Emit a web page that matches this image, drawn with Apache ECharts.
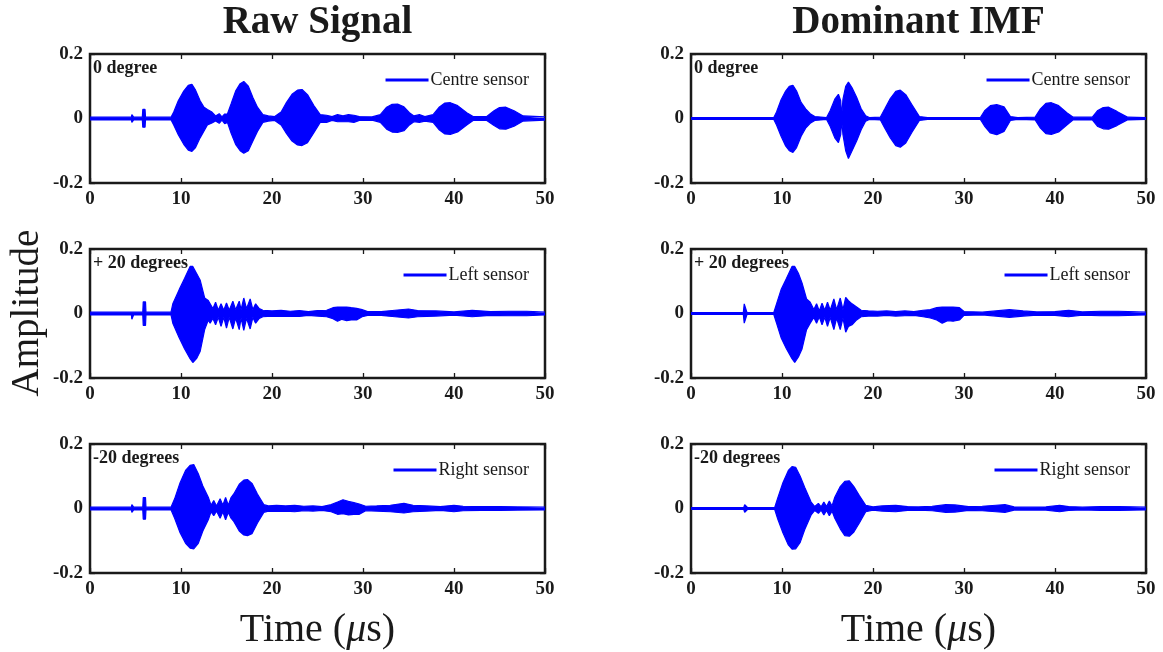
<!DOCTYPE html>
<html>
<head>
<meta charset="utf-8">
<script src="https://cdn.jsdelivr.net/npm/echarts@6/dist/echarts.min.js"></script>
<style>html,body{margin:0;padding:0;background:#fff}#c{width:1163px;height:652px}</style>
</head>
<body>
<div id="c"></div>
<script>
// Envelope of each signal: [time (µs), upper, lower]
const rawCentre = [[0,0.004,-0.004],[4.55,0.004,-0.004],[4.6,0.012,-0.012],[4.75,0.012,-0.012],[4.8,0.004,-0.004],[5.75,0.004,-0.004],[5.8,0.028,-0.027],[6.05,0.028,-0.027],[6.1,0.004,-0.004],[8.9,0.004,-0.004],[9.2,0.02,-0.02],[9.7,0.055,-0.05],[10.3,0.085,-0.08],[10.8,0.103,-0.098],[11.2,0.106,-0.102],[11.6,0.088,-0.09],[12.1,0.055,-0.06],[12.5,0.036,-0.04],[12.9,0.028,-0.02],[13.4,0.02,-0.014],[13.8,0.008,-0.008],[14.2,0.015,-0.015],[14.5,0.005,-0.005],[14.8,0.014,-0.016],[15.1,0.014,-0.012],[15.5,0.045,-0.045],[16.0,0.085,-0.08],[16.5,0.108,-0.1],[16.9,0.115,-0.108],[17.4,0.1,-0.1],[17.9,0.065,-0.07],[18.4,0.035,-0.04],[19.0,0.012,-0.012],[19.6,0.008,-0.008],[20.3,0.006,-0.006],[21.0,0.02,-0.02],[21.6,0.05,-0.047],[22.2,0.075,-0.07],[22.8,0.088,-0.082],[23.3,0.09,-0.084],[23.9,0.074,-0.075],[24.6,0.04,-0.044],[25.3,0.012,-0.012],[26,0.01,-0.012],[26.6,0.006,-0.006],[27.2,0.012,-0.01],[27.8,0.008,-0.01],[28.4,0.012,-0.01],[29,0.01,-0.012],[29.6,0.006,-0.006],[31,0.005,-0.005],[31.9,0.012,-0.012],[32.6,0.035,-0.033],[33.2,0.044,-0.042],[33.8,0.045,-0.043],[34.5,0.036,-0.038],[35.1,0.018,-0.02],[35.6,0.008,-0.01],[36.2,0.012,-0.012],[36.8,0.006,-0.008],[37.7,0.012,-0.012],[38.4,0.036,-0.036],[39.0,0.048,-0.048],[39.6,0.049,-0.049],[40.4,0.04,-0.042],[41.4,0.018,-0.02],[42.1,0.006,-0.006],[43.6,0.006,-0.006],[44.4,0.024,-0.022],[45.0,0.034,-0.032],[45.7,0.035,-0.033],[46.6,0.024,-0.024],[47.6,0.008,-0.008],[50,0.005,-0.005]];

const imfCentre = [[0,0.003,-0.003],[4.6,0.003,-0.003],[4.65,0.007,-0.007],[4.75,0.007,-0.007],[4.8,0.003,-0.003],[5.9,0.003,-0.003],[6.0,0.005,-0.005],[6.1,0.003,-0.003],[9.1,0.003,-0.003],[9.4,0.02,-0.02],[9.9,0.058,-0.055],[10.4,0.085,-0.085],[10.8,0.1,-0.1],[11.2,0.103,-0.105],[11.6,0.085,-0.09],[12.1,0.05,-0.055],[12.6,0.03,-0.03],[13.1,0.015,-0.015],[13.6,0.006,-0.006],[14.9,0.003,-0.003],[15.3,0.025,-0.025],[15.8,0.06,-0.06],[16.2,0.075,-0.075],[16.45,0.055,-0.05],[16.55,0.005,-0.005],[16.7,0.06,-0.05],[17.0,0.1,-0.1],[17.3,0.113,-0.124],[17.7,0.095,-0.1],[18.2,0.066,-0.07],[18.7,0.03,-0.035],[19.2,0.008,-0.008],[19.6,0.003,-0.003],[20.8,0.004,-0.004],[21.3,0.03,-0.03],[21.9,0.062,-0.06],[22.5,0.084,-0.084],[23.0,0.088,-0.089],[23.6,0.074,-0.076],[24.3,0.042,-0.042],[25.1,0.006,-0.006],[26,0.003,-0.003],[31.8,0.003,-0.003],[32.3,0.025,-0.025],[32.9,0.04,-0.045],[33.6,0.043,-0.05],[34.4,0.036,-0.04],[35.1,0.006,-0.006],[35.9,0.003,-0.003],[36.0,0.006,-0.006],[36.1,0.003,-0.003],[37.8,0.004,-0.004],[38.4,0.03,-0.03],[39.0,0.047,-0.047],[39.6,0.049,-0.049],[40.4,0.04,-0.042],[41.3,0.018,-0.02],[42.0,0.004,-0.004],[44.1,0.004,-0.004],[44.7,0.025,-0.025],[45.3,0.034,-0.032],[45.9,0.035,-0.033],[46.8,0.022,-0.022],[48.0,0.004,-0.004],[50,0.003,-0.003]];

const rawLeft = [[0,0.004,-0.004],[4.55,0.004,-0.004],[4.6,0.01,-0.018],[4.75,0.01,-0.018],[4.8,0.004,-0.004],[5.8,0.004,-0.004],[5.85,0.036,-0.037],[6.1,0.036,-0.037],[6.15,0.004,-0.004],[8.9,0.004,-0.004],[9.1,0.03,-0.03],[9.8,0.074,-0.075],[10.4,0.109,-0.11],[11.0,0.146,-0.14],[11.3,0.146,-0.152],[11.7,0.125,-0.14],[12.1,0.104,-0.118],[12.6,0.048,-0.05],[13.0,0.04,-0.02],[13.2,0.043,-0.03],[13.5,0.015,-0.015],[13.8,0.035,-0.035],[14.1,0.01,-0.012],[14.4,0.03,-0.04],[14.7,0.01,-0.012],[15.0,0.033,-0.045],[15.3,0.01,-0.012],[15.7,0.038,-0.048],[16.0,0.012,-0.014],[16.4,0.038,-0.05],[16.6,0.012,-0.014],[16.9,0.048,-0.052],[17.2,0.015,-0.015],[17.6,0.045,-0.048],[17.9,0.012,-0.012],[18.2,0.03,-0.03],[18.6,0.015,-0.015],[19.0,0.01,-0.01],[20,0.008,-0.008],[21,0.01,-0.009],[22,0.007,-0.008],[23,0.009,-0.009],[24,0.006,-0.006],[25,0.009,-0.008],[26,0.01,-0.01],[26.7,0.018,-0.016],[27.2,0.02,-0.024],[27.7,0.02,-0.018],[28.2,0.02,-0.022],[28.7,0.018,-0.02],[29.3,0.016,-0.02],[29.9,0.012,-0.01],[30.5,0.006,-0.006],[32,0.006,-0.006],[33.5,0.01,-0.01],[35,0.014,-0.014],[36,0.009,-0.01],[38,0.008,-0.008],[40,0.005,-0.005],[42,0.01,-0.01],[44,0.006,-0.006],[46,0.007,-0.007],[48,0.007,-0.007],[50,0.004,-0.004]];

const imfLeft = [[0,0.003,-0.003],[4.6,0.003,-0.003],[4.65,0.008,-0.008],[4.75,0.008,-0.008],[4.8,0.003,-0.003],[5.75,0.003,-0.003],[5.85,0.03,-0.03],[6.05,0.03,-0.03],[6.15,0.003,-0.003],[9.1,0.003,-0.003],[9.4,0.03,-0.03],[9.9,0.074,-0.075],[10.5,0.109,-0.11],[11.1,0.146,-0.14],[11.4,0.146,-0.152],[11.8,0.125,-0.135],[12.2,0.095,-0.11],[12.7,0.045,-0.05],[13.1,0.035,-0.03],[13.5,0.012,-0.012],[13.8,0.03,-0.03],[14.1,0.008,-0.01],[14.4,0.032,-0.035],[14.7,0.01,-0.012],[15.0,0.035,-0.04],[15.3,0.01,-0.012],[15.7,0.045,-0.05],[16.0,0.012,-0.014],[16.4,0.048,-0.05],[16.7,0.012,-0.014],[17.0,0.05,-0.058],[17.3,0.04,-0.04],[17.7,0.03,-0.035],[18.2,0.02,-0.02],[18.7,0.01,-0.01],[19.5,0.008,-0.008],[20.5,0.007,-0.008],[21.5,0.008,-0.006],[22.5,0.006,-0.008],[23.5,0.008,-0.007],[24.5,0.006,-0.006],[25.5,0.01,-0.01],[26.3,0.012,-0.014],[27.0,0.018,-0.02],[27.6,0.02,-0.03],[28.2,0.02,-0.022],[28.8,0.02,-0.024],[29.5,0.018,-0.02],[30.0,0.006,-0.006],[32,0.004,-0.004],[33.5,0.008,-0.008],[35,0.012,-0.012],[36.5,0.008,-0.008],[38,0.005,-0.005],[40,0.006,-0.006],[41.5,0.01,-0.01],[43,0.005,-0.005],[45,0.007,-0.007],[47,0.007,-0.007],[50,0.004,-0.004]];

const rawRight = [[0,0.004,-0.004],[4.55,0.004,-0.004],[4.6,0.012,-0.012],[4.75,0.012,-0.012],[4.8,0.004,-0.004],[5.8,0.004,-0.004],[5.85,0.034,-0.033],[6.1,0.034,-0.033],[6.15,0.004,-0.004],[8.9,0.004,-0.004],[9.3,0.03,-0.03],[9.9,0.08,-0.075],[10.5,0.118,-0.108],[11.0,0.134,-0.123],[11.4,0.136,-0.125],[11.9,0.108,-0.108],[12.4,0.07,-0.07],[13.0,0.035,-0.035],[13.3,0.01,-0.01],[13.6,0.025,-0.022],[13.9,0.008,-0.008],[14.3,0.03,-0.03],[14.6,0.01,-0.01],[14.9,0.034,-0.035],[15.2,0.01,-0.012],[15.5,0.034,-0.03],[15.8,0.045,-0.04],[16.4,0.075,-0.07],[16.9,0.088,-0.082],[17.3,0.09,-0.084],[17.8,0.078,-0.078],[18.4,0.045,-0.045],[19.1,0.012,-0.012],[19.6,0.008,-0.008],[20.5,0.01,-0.009],[21.5,0.008,-0.008],[22.5,0.01,-0.01],[23.5,0.007,-0.007],[24.5,0.008,-0.008],[25.5,0.006,-0.006],[26.5,0.012,-0.01],[27.2,0.02,-0.018],[27.8,0.027,-0.016],[28.4,0.022,-0.02],[29.0,0.018,-0.018],[29.6,0.014,-0.018],[30.3,0.007,-0.007],[31.5,0.008,-0.008],[33,0.01,-0.01],[34.5,0.016,-0.014],[35.5,0.01,-0.01],[37,0.008,-0.008],[38.5,0.006,-0.006],[40,0.01,-0.01],[41,0.007,-0.007],[43,0.006,-0.006],[45,0.006,-0.006],[47,0.005,-0.005],[50,0.004,-0.004]];

const imfRight = [[0,0.003,-0.003],[4.6,0.003,-0.003],[4.65,0.005,-0.005],[4.75,0.005,-0.005],[4.8,0.003,-0.003],[5.8,0.003,-0.003],[5.9,0.012,-0.012],[6.1,0.012,-0.012],[6.2,0.003,-0.003],[9.2,0.003,-0.003],[9.5,0.03,-0.03],[10.1,0.08,-0.075],[10.7,0.118,-0.113],[11.1,0.13,-0.126],[11.5,0.128,-0.125],[12.0,0.1,-0.105],[12.5,0.065,-0.065],[13.2,0.02,-0.02],[13.6,0.006,-0.006],[14.0,0.016,-0.015],[14.3,0.005,-0.005],[14.6,0.02,-0.02],[14.9,0.006,-0.006],[15.2,0.023,-0.022],[15.5,0.008,-0.008],[15.8,0.035,-0.03],[16.4,0.068,-0.063],[16.9,0.084,-0.084],[17.4,0.086,-0.086],[17.9,0.068,-0.073],[18.5,0.04,-0.045],[19.2,0.01,-0.01],[20,0.005,-0.005],[21,0.008,-0.008],[22.5,0.01,-0.01],[23.8,0.006,-0.006],[25,0.005,-0.005],[26.5,0.007,-0.007],[28,0.012,-0.012],[29,0.011,-0.011],[30.5,0.006,-0.006],[32,0.007,-0.007],[33.5,0.01,-0.01],[34.5,0.012,-0.012],[35.5,0.005,-0.005],[37,0.004,-0.004],[39,0.005,-0.005],[40.5,0.01,-0.01],[41.5,0.006,-0.006],[43,0.004,-0.004],[45,0.006,-0.006],[47,0.006,-0.006],[50,0.004,-0.004]];

const columnTitles = ['Raw Signal', 'Dominant IMF'];
const sensorNames = ['Centre sensor', 'Left sensor', 'Right sensor'];
const angleLabels = ['0 degree', '+ 20 degrees', '-20 degrees'];
const signals = [[rawCentre, imfCentre], [rawLeft, imfLeft], [rawRight, imfRight]];
const xTicks = {min: 0, max: 50, interval: 10};
const yTicks = {min: -0.2, max: 0.2, interval: 0.2};

const FONT = '"Liberation Serif", "Times New Roman", serif';
const INK = '#1a1a1a';
const BLUE = '#0000ff';
const gridLefts = [90, 691];
const gridTops = [54, 249, 444];
const GW = 455, GH = 129;

const grids = [], xAxes = [], yAxes = [], series = [], legends = [], graphics = [];
let idx = 0;
for (let r = 0; r < 3; r++) {
  for (let c = 0; c < 2; c++) {
    const i = idx++;
    grids.push({left: gridLefts[c], top: gridTops[r], width: GW, height: GH,
      show: true, borderColor: INK, borderWidth: 2.5, backgroundColor: '#fff'});
    const tick = {show: true, inside: true, length: 5, lineStyle: {color: INK, width: 1.3}};
    const line = {show: false, onZero: false};
    xAxes[i] = {gridIndex: i, type: 'value', position: 'bottom', min: xTicks.min, max: xTicks.max, interval: xTicks.interval,
      axisLine: line, axisTick: tick, splitLine: {show: false},
      axisLabel: {margin: 7, color: INK, fontFamily: FONT, fontWeight: 'bold', fontSize: 19}};
    xAxes[6 + i] = {gridIndex: i, type: 'value', position: 'top', min: xTicks.min, max: xTicks.max, interval: xTicks.interval,
      axisLine: line, axisTick: tick, splitLine: {show: false}, axisLabel: {show: false}};
    yAxes[i] = {gridIndex: i, type: 'value', position: 'left', min: yTicks.min, max: yTicks.max, interval: yTicks.interval,
      axisLine: line, axisTick: tick, splitLine: {show: false},
      axisLabel: {margin: 7, color: INK, fontFamily: FONT, fontWeight: 'bold', fontSize: 19}};
    yAxes[6 + i] = {gridIndex: i, type: 'value', position: 'right', min: yTicks.min, max: yTicks.max, interval: yTicks.interval,
      axisLine: line, axisTick: tick, splitLine: {show: false}, axisLabel: {show: false}};
    const env = signals[r][c];
    const name = sensorNames[r];
    const common = {type: 'line', name: name, xAxisIndex: i, yAxisIndex: i, showSymbol: false, symbol: 'none',
      color: BLUE, lineStyle: {color: BLUE, width: 1.2}, areaStyle: {color: BLUE, opacity: 1}, silent: true, z: 3};
    // upper envelope filled down to zero, with the zero line of the trace
    series.push(Object.assign({}, common, {data: env.map(d => [d[0], d[1]]),
      markLine: {silent: true, symbol: 'none', label: {show: false}, z: 4,
        lineStyle: {color: BLUE, type: 'solid', width: 2}, data: [{yAxis: 0}]}}));
    // lower envelope filled up to zero
    series.push(Object.assign({}, common, {data: env.map(d => [d[0], d[2]])}));
    legends.push({data: [{name: name, icon: 'rect'}], right: 1163 - (gridLefts[c] + GW - 16), top: gridTops[r] + 17,
      orient: 'horizontal', padding: 0, itemWidth: 43, itemHeight: 3, selectedMode: false,
      textStyle: {fontFamily: FONT, fontSize: 18, color: INK, padding: [0, 0, 0, -3]}});
    graphics.push({type: 'text', x: gridLefts[c] + 3, y: gridTops[r] + 14, z: 10,
      style: {text: angleLabels[r], font: 'bold 18px ' + FONT, fill: INK, textVerticalAlign: 'middle'}});
  }
}
for (let c = 0; c < 2; c++) {
  const cx = gridLefts[c] + GW / 2;
  graphics.push({type: 'text', x: cx, y: 23, style: {text: columnTitles[c], font: 'bold 39px ' + FONT, fill: INK, textAlign: 'center', textVerticalAlign: 'middle'}});
  graphics.push({type: 'text', x: cx, y: 630, style: {text: '{a|Time (}{b|μ}{a|s)}', textAlign: 'center', textVerticalAlign: 'middle',
    rich: {a: {font: '40px ' + FONT, fill: INK, color: INK}, b: {font: 'italic 40px ' + FONT, fill: INK, color: INK}}}});
}
graphics.push({type: 'text', x: 28, y: 313, rotation: Math.PI / 2,
  style: {text: 'Amplitude', font: '39px ' + FONT, fill: INK, textAlign: 'center', textVerticalAlign: 'middle'}});

const chart = echarts.init(document.getElementById('c'), null, {renderer: 'canvas'});
chart.setOption({
  animation: false,
  backgroundColor: '#fff',
  grid: grids, xAxis: xAxes, yAxis: yAxes, series: series, legend: legends, graphic: graphics
});
</script>
</body>
</html>
